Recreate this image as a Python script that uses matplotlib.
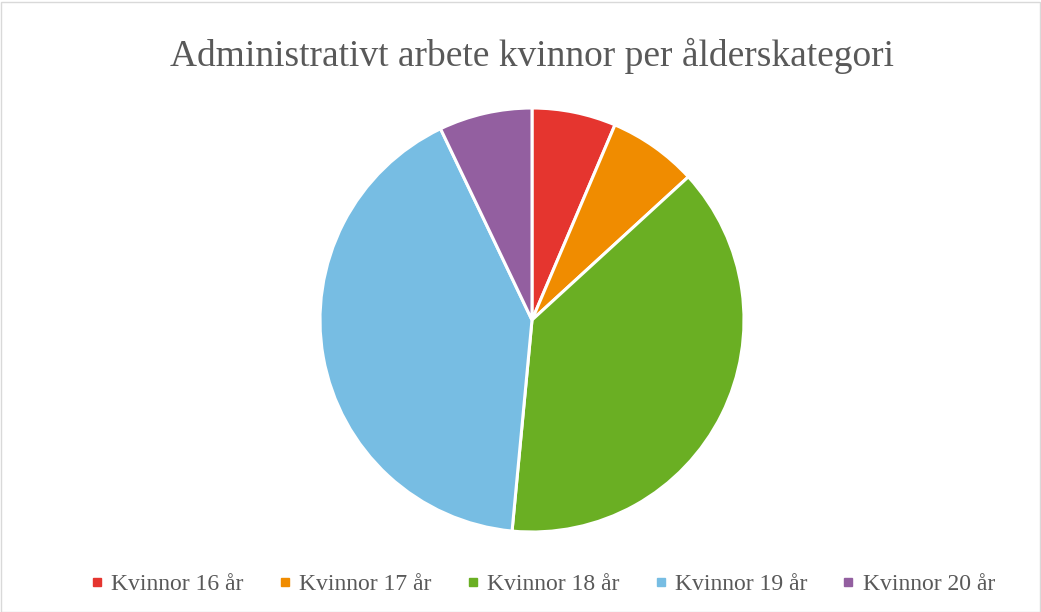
import matplotlib.pyplot as plt
from matplotlib.lines import Line2D
from matplotlib.patches import Rectangle

# Share of women per age category (percent)
labels = ['Kvinnor 16 år', 'Kvinnor 17 år', 'Kvinnor 18 år', 'Kvinnor 19 år', 'Kvinnor 20 år']
values = [6.4, 6.8, 38.3, 41.4, 7.1]
colors = ['#E5352F', '#F08C00', '#6AAF23', '#77BDE3', '#935FA0']

plt.rcParams['font.family'] = ['Liberation Serif', 'DejaVu Serif']

W, H = 1041, 612
fig = plt.figure(figsize=(W / 100, H / 100), dpi=100)

# light border around the chart area
fig.patches.append(Rectangle((0.5 / W, 0.5 / H), 1 - 2 / W, 1 - 2 / H, transform=fig.transFigure,
                             fill=False, edgecolor='#d9d9d9', linewidth=1))

cx, cy, r = 532, 320, 212
ax = fig.add_axes([(cx - r) / W, (H - cy - r) / H, 2 * r / W, 2 * r / H])
ax.pie(values, colors=colors, startangle=90, counterclock=False, radius=1,
       wedgeprops=dict(edgecolor='white', linewidth=2.2))
ax.set_xlim(-1.0, 1.0)
ax.set_ylim(-1.0, 1.0)
ax.set_aspect('equal')
ax.axis('off')

fig.text(0.511, 1 - 56 / H, 'Administrativt arbete kvinnor per ålderskategori',
         ha='center', va='center', fontsize=27, color='#595959')

handles = [Line2D([], [], marker='s', linestyle='none', markersize=5.5, color=c) for c in colors]
fig.legend(handles, labels, loc='center', bbox_to_anchor=(543 / W, 1 - 584 / H), ncol=5,
           frameon=False, fontsize=17, handlelength=0.5, handletextpad=0.35, columnspacing=1.5,
           labelcolor='#595959')

fig.savefig('out.png', dpi=100)
